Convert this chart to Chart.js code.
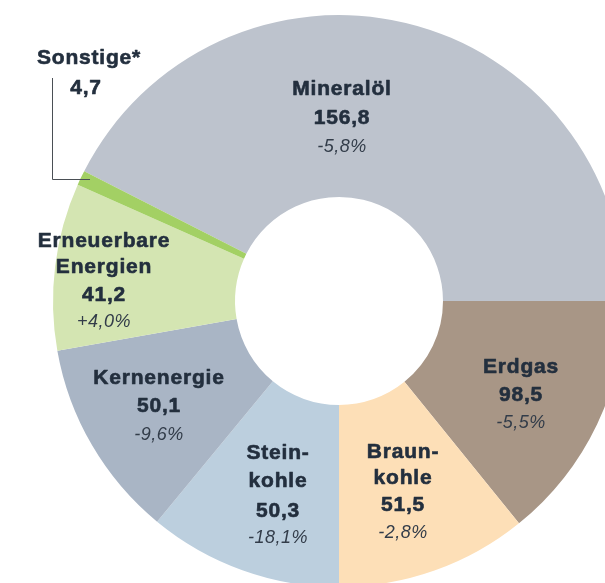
<!DOCTYPE html>
<html>
<head>
<meta charset="utf-8">
<script src="https://cdn.jsdelivr.net/npm/chart.js@4/dist/chart.umd.min.js"></script>
<style>
  html, body { margin: 0; padding: 0; background: #ffffff; overflow: hidden; width: 605px; height: 583px; }
  #wrap { position: absolute; left: 0; top: 0; width: 678px; height: 602px; }
</style>
</head>
<body>
<div id="wrap"><canvas id="c" width="678" height="602"></canvas></div>
<script>
// ---- data ----
const categories = ["Mineralöl", "Erdgas", "Braun-\nkohle", "Stein-\nkohle", "Kernenergie", "Erneuerbare\nEnergien", "Sonstige*"];
const values = [156.8, 98.5, 51.5, 50.3, 50.1, 41.2, 4.7];            // labelled amounts
const changes = [-5.8, -5.5, -2.8, -18.1, -9.6, 4.0, null];            // change vs. previous year, %
const sliceShares = [153, 51, 39, 39.5, 40.5, 34, 3];                 // slice sizes as drawn (degrees)

// ---- styles / layout (not data) ----
const colors = ["#BDC3CD", "#A89686", "#FDDFB7", "#BCCFDE", "#A9B5C5", "#D4E5B2", "#A3D064"];
const labelLayout = [
  { x: 342, ys: [89, 118, 147] },
  { x: 521, ys: [367, 395, 423] },
  { x: 403, ys: [452, 478, 505, 533] },
  { x: 278, ys: [453, 481, 511, 538] },
  { x: 159, ys: [378, 406, 435] },
  { x: 104, ys: [241, 267, 295, 322] },
  { x: 89,  ys: [58, 88], valueX: 86 }
];

function fmtNum(v) { return v.toFixed(1).replace('.', ','); }
function fmtPct(v) { return (v > 0 ? '+' : '') + v.toFixed(1).replace('.', ',') + '%'; }

const labelPlugin = {
  id: 'sliceLabels',
  afterDraw(chart) {
    const ctx = chart.ctx;
    ctx.save();
    ctx.textAlign = 'center';
    ctx.textBaseline = 'middle';
    const dark = '#232F3E';
    const boldText = (t, x, y) => { ctx.fillText(t, x, y); ctx.strokeText(t, x, y); };
    categories.forEach((name, i) => {
      const L = labelLayout[i];
      const nameLines = name.split('\n');
      let k = 0;
      ctx.fillStyle = dark;
      ctx.strokeStyle = dark;
      ctx.lineWidth = 0.6;
      ctx.lineJoin = 'round';
      ctx.font = 'bold 21px "Liberation Sans", Arial, sans-serif';
      if ('letterSpacing' in ctx) ctx.letterSpacing = '0.8px';
      nameLines.forEach(line => { boldText(line, L.x, L.ys[k]); k++; });
      boldText(fmtNum(values[i]), L.valueX || L.x, L.ys[k]); k++;
      if (changes[i] !== null) {
        ctx.fillStyle = '#323C49';
        ctx.font = 'italic 18px "Liberation Sans", Arial, sans-serif';
        if ('letterSpacing' in ctx) ctx.letterSpacing = '0.5px';
        ctx.fillText(fmtPct(changes[i]), L.x, L.ys[k]);
      }
    });
    // leader line for "Sonstige*"
    ctx.strokeStyle = '#4A4F55';
    ctx.lineWidth = 1;
    ctx.beginPath();
    ctx.moveTo(52.5, 78);
    ctx.lineTo(52.5, 179.5);
    ctx.lineTo(90, 179.5);
    ctx.stroke();
    ctx.restore();
  }
};

new Chart(document.getElementById('c'), {
  type: 'doughnut',
  data: {
    labels: categories,
    datasets: [{
      data: sliceShares,
      backgroundColor: colors,
      borderWidth: 0,
      hoverOffset: 0
    }]
  },
  options: {
    responsive: false,
    animation: false,
    rotation: -63,
    radius: 286,
    cutout: 104,
    layout: { padding: 15 },
    events: [],
    plugins: { legend: { display: false }, tooltip: { enabled: false } }
  },
  plugins: [labelPlugin]
});
</script>
</body>
</html>
